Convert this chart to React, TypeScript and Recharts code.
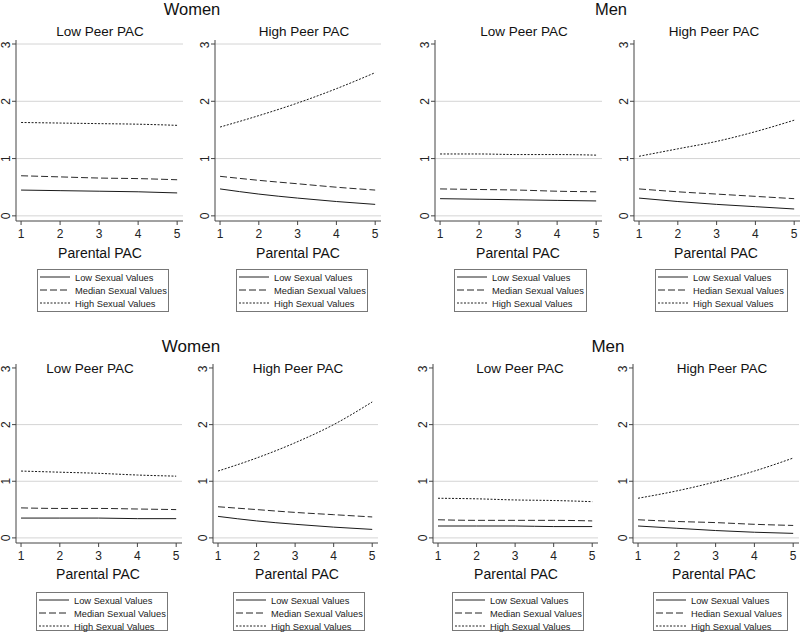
import React from "react";
import { LineChart, Line, XAxis, YAxis, ReferenceLine } from "recharts";

const PARENTAL_PAC = [1, 2, 3, 4, 5];
const Y_TICKS = [0, 1, 2, 3];

// top row, Women
const womenTopLowPeer_low = [0.45, 0.44, 0.43, 0.42, 0.4];
const womenTopLowPeer_med = [0.7, 0.68, 0.66, 0.65, 0.63];
const womenTopLowPeer_high = [1.63, 1.62, 1.61, 1.6, 1.58];
const womenTopHighPeer_low = [0.47, 0.38, 0.31, 0.25, 0.2];
const womenTopHighPeer_med = [0.69, 0.62, 0.56, 0.5, 0.45];
const womenTopHighPeer_high = [1.55, 1.75, 1.97, 2.22, 2.5];
// top row, Men
const menTopLowPeer_low = [0.3, 0.29, 0.28, 0.27, 0.26];
const menTopLowPeer_med = [0.47, 0.46, 0.45, 0.43, 0.42];
const menTopLowPeer_high = [1.08, 1.08, 1.07, 1.07, 1.06];
const menTopHighPeer_low = [0.31, 0.25, 0.2, 0.16, 0.12];
const menTopHighPeer_med = [0.47, 0.42, 0.38, 0.34, 0.3];
const menTopHighPeer_high = [1.04, 1.17, 1.3, 1.47, 1.67];
// bottom row, Women
const womenBotLowPeer_low = [0.35, 0.35, 0.35, 0.34, 0.34];
const womenBotLowPeer_med = [0.53, 0.52, 0.52, 0.51, 0.5];
const womenBotLowPeer_high = [1.18, 1.16, 1.14, 1.11, 1.09];
const womenBotHighPeer_low = [0.38, 0.3, 0.24, 0.19, 0.15];
const womenBotHighPeer_med = [0.55, 0.5, 0.45, 0.41, 0.37];
const womenBotHighPeer_high = [1.18, 1.41, 1.68, 2.0, 2.4];
// bottom row, Men
const menBotLowPeer_low = [0.21, 0.21, 0.21, 0.2, 0.2];
const menBotLowPeer_med = [0.32, 0.31, 0.31, 0.31, 0.3];
const menBotLowPeer_high = [0.7, 0.69, 0.67, 0.66, 0.64];
const menBotHighPeer_low = [0.21, 0.17, 0.13, 0.1, 0.08];
const menBotHighPeer_med = [0.32, 0.29, 0.27, 0.24, 0.22];
const menBotHighPeer_high = [0.7, 0.83, 0.99, 1.18, 1.41];

const LEGEND_LOW = "Low Sexual Values";
const LEGEND_MED = "Median Sexual Values";
const LEGEND_MED_TYPO = "Hedian Sexual Values";
const LEGEND_HIGH = "High Sexual Values";

const FONT = "'Liberation Sans', Arial, Helvetica, sans-serif";

const build = (low: number[], med: number[], high: number[]) =>
  PARENTAL_PAC.map((x, i) => ({ x, low: low[i], med: med[i], high: high[i] }));

const PANELS = [
  { axisX: 16, right: 183, top: 40, bottom: 221, grid: [0, 1, 2, 3], title: "Low Peer PAC", tx: 100, ty: 36, lx: 100, ly: 258, leg: [37, 269, 131, 42], med: LEGEND_MED,
    data: build(womenTopLowPeer_low, womenTopLowPeer_med, womenTopLowPeer_high) },
  { axisX: 215, right: 381, top: 40, bottom: 221, grid: [0, 1, 2, 3], title: "High Peer PAC", tx: 304, ty: 36, lx: 298, ly: 258, leg: [236, 269, 131, 42], med: LEGEND_MED,
    data: build(womenTopHighPeer_low, womenTopHighPeer_med, womenTopHighPeer_high) },
  { axisX: 435, right: 602, top: 40, bottom: 221, grid: [0, 1, 2], title: "Low Peer PAC", tx: 524, ty: 36, lx: 518, ly: 258, leg: [454, 269, 132, 42], med: LEGEND_MED,
    data: build(menTopLowPeer_low, menTopLowPeer_med, menTopLowPeer_high) },
  { axisX: 634, right: 800, top: 40, bottom: 221, grid: [0, 1, 2], title: "High Peer PAC", tx: 714, ty: 36, lx: 716, ly: 258, leg: [655, 269, 132, 42], med: LEGEND_MED_TYPO,
    data: build(menTopHighPeer_low, menTopHighPeer_med, menTopHighPeer_high) },
  { axisX: 16, right: 182, top: 364, bottom: 543, grid: [0, 1, 2], title: "Low Peer PAC", tx: 90, ty: 373, lx: 98, ly: 579, leg: [36, 592, 131, 38], med: LEGEND_MED,
    data: build(womenBotLowPeer_low, womenBotLowPeer_med, womenBotLowPeer_high) },
  { axisX: 213, right: 378, top: 364, bottom: 543, grid: [0, 1, 2], title: "High Peer PAC", tx: 298, ty: 373, lx: 297, ly: 579, leg: [233, 592, 131, 38], med: LEGEND_MED,
    data: build(womenBotHighPeer_low, womenBotHighPeer_med, womenBotHighPeer_high) },
  { axisX: 433, right: 598, top: 364, bottom: 543, grid: [0, 1, 2], title: "Low Peer PAC", tx: 520, ty: 373, lx: 516, ly: 579, leg: [452, 592, 131, 38], med: LEGEND_MED,
    data: build(menBotLowPeer_low, menBotLowPeer_med, menBotLowPeer_high) },
  { axisX: 633, right: 799, top: 364, bottom: 543, grid: [0, 1, 2], title: "High Peer PAC", tx: 722, ty: 373, lx: 714, ly: 579, leg: [653, 592, 134, 38], med: LEGEND_MED_TYPO,
    data: build(menBotHighPeer_low, menBotHighPeer_med, menBotHighPeer_high) },
];

const GROUP_TITLES = [
  { text: "Women", x: 192, y: 15, size: 16.5 },
  { text: "Men", x: 611, y: 15, size: 16.5 },
  { text: "Women", x: 191, y: 352, size: 17 },
  { text: "Men", x: 608, y: 352, size: 17 },
];

const DASH_MED = "7 3";
const DASH_HIGH = "2 1.5";
const YW = 20;
const MT = 4;
const MR = 1;
const XH = 30;

const RotatedTick = (props: any) => {
  const { x, y, payload } = props;
  return (
    <g transform={`translate(${x},${y}) rotate(-90)`}>
      <text x={0} y={0} textAnchor="middle" fontSize={12} fill="#222" fontFamily={FONT}>
        {payload.value}
      </text>
    </g>
  );
};

function Panel({ p }: { p: (typeof PANELS)[number] }) {
  const plotW = p.right - p.axisX;
  const plotH = p.bottom - p.top;
  return (
    <div style={{ position: "absolute", left: p.axisX - YW, top: p.top - MT }}>
      <LineChart
        width={YW + plotW + MR}
        height={MT + plotH + XH}
        data={p.data}
        margin={{ top: MT, right: MR, left: 0, bottom: 0 }}
      >
        {p.grid.map((g) => (
          <ReferenceLine key={g} y={g} stroke="#d4d4d4" strokeWidth={1} ifOverflow="visible" />
        ))}
        <XAxis
          dataKey="x"
          type="number"
          domain={[0.87, 5.15]}
          ticks={PARENTAL_PAC}
          allowDataOverflow
          height={XH}
          stroke="#444"
          tickSize={4}
          tickMargin={4}
          tick={{ fontSize: 12, fill: "#222", fontFamily: FONT }}
        />
        <YAxis
          type="number"
          domain={[-0.09, 3.07]}
          ticks={Y_TICKS}
          allowDataOverflow
          width={YW}
          stroke="#444"
          tickSize={4}
          tickMargin={2}
          tick={<RotatedTick />}
        />
        <Line dataKey="low" type="monotone" stroke="#1a1a1a" strokeWidth={1} dot={false} isAnimationActive={false} />
        <Line dataKey="med" type="monotone" stroke="#2a2a2a" strokeWidth={1} strokeDasharray={DASH_MED} dot={false} isAnimationActive={false} />
        <Line dataKey="high" type="monotone" stroke="#1a1a1a" strokeWidth={1} strokeDasharray={DASH_HIGH} dot={false} isAnimationActive={false} />
      </LineChart>
    </div>
  );
}

function Legend({ p }: { p: (typeof PANELS)[number] }) {
  const [x, y, w, h] = p.leg;
  const rows = [
    { label: LEGEND_LOW, dash: undefined },
    { label: p.med, dash: DASH_MED },
    { label: LEGEND_HIGH, dash: DASH_HIGH },
  ];
  return (
    <g>
      <rect x={x + 0.5} y={y + 0.5} width={w} height={h} fill="#fff" stroke="#777" />
      {rows.map((r, i) => {
        const ry = y + 8 + i * 13;
        return (
          <g key={i}>
            <line x1={x + 3} x2={x + 33} y1={ry} y2={ry} stroke="#222" strokeDasharray={r.dash} />
            <text x={x + 38} y={ry + 3.5} fontSize={9.3} fill="#222" fontFamily={FONT}>
              {r.label}
            </text>
          </g>
        );
      })}
    </g>
  );
}

export default function App() {
  return (
    <div style={{ position: "absolute", left: 0, top: 0, width: 800, height: 633, background: "#fff", overflow: "hidden", fontFamily: FONT }}>
      {PANELS.map((p, i) => (
        <Panel key={i} p={p} />
      ))}
      <svg width={800} height={633} style={{ position: "absolute", left: 0, top: 0, pointerEvents: "none" }}>
        {GROUP_TITLES.map((t, i) => (
          <text key={i} x={t.x} y={t.y} textAnchor="middle" fontSize={t.size} fill="#111" fontFamily={FONT}>
            {t.text}
          </text>
        ))}
        {PANELS.map((p, i) => (
          <g key={i}>
            <text x={p.tx} y={p.ty} textAnchor="middle" fontSize={13.5} fill="#111" fontFamily={FONT}>
              {p.title}
            </text>
            <text x={p.lx} y={p.ly} textAnchor="middle" fontSize={14} fill="#111" fontFamily={FONT}>
              Parental PAC
            </text>
            <Legend p={p} />
          </g>
        ))}
      </svg>
    </div>
  );
}
